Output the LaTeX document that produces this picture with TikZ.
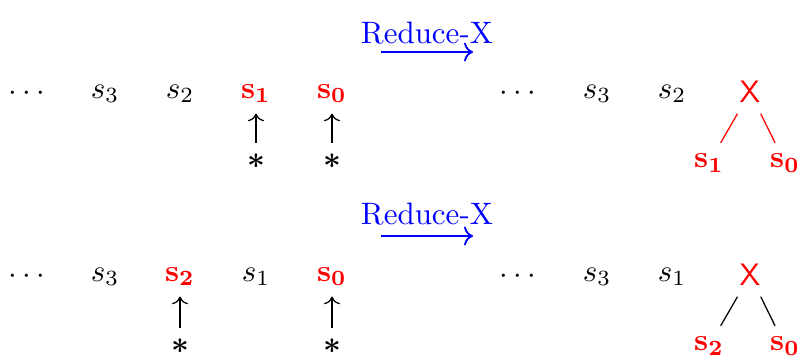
\documentclass[tikz,border=0pt]{standalone}
\usetikzlibrary{arrows.meta}
\begin{document}
\begin{tikzpicture}[x=0.3226pt, y=-0.3226pt,
  item/.style={anchor=base, inner sep=0.333em},
  hl/.style={item, text=red},
  star/.style={anchor=center, font=\boldmath},
  ptr/.style={->},
  root/.style={text=red, font=\sffamily, anchor=center},
  leaf/.style={text=red, anchor=center},
  lab/.style={text=blue, anchor=center},
  red edge/.style={red},
  black edge/.style={black},
  act/.style={->, blue, line width=0.6pt}]
\useasboundingbox (0,0) rectangle (798,358);
% ---------- top row ----------
\node[lab] (r1) at (427,33) {Reduce-X};
\coordinate (r1a) at (381,52);
\coordinate (r1b) at (473,52);
\draw[act] (r1a) -- (r1b);
\node[item] (t0) at (27,100) {$\cdots$};
\node[item] (t1) at (105,98) {$s_3$};
\node[item] (t2) at (180,98) {$s_2$};
\node[hl] (t3) at (256,98) {$\mathbf{s_1}$};
\node[hl] (t4) at (332,98) {$\mathbf{s_0}$};
\node[star] (a1) at (256,161) {$*$};
\node[star] (a2) at (332,161) {$*$};
\draw[ptr] (a1) -- (t3);
\draw[ptr] (a2) -- (t4);
\node[item] (u0) at (518,100) {$\cdots$};
\node[item] (u1) at (597,98) {$s_3$};
\node[item] (u2) at (672,98) {$s_2$};
\node[root] (x1) at (750,92) {X};
\node[leaf] (l1) at (709,163) {$\mathbf{s_1}$};
\node[leaf] (l2) at (785,163) {$\mathbf{s_0}$};
\draw[red edge] (x1) -- (l1);
\draw[red edge] (x1) -- (l2);
% ---------- bottom row ----------
\node[lab] (r2) at (427,214) {Reduce-X};
\coordinate (r2a) at (381,236);
\coordinate (r2b) at (473,236);
\draw[act] (r2a) -- (r2b);
\node[item] (b0) at (27,283) {$\cdots$};
\node[item] (b1) at (105,281) {$s_3$};
\node[hl] (b2) at (180,281) {$\mathbf{s_2}$};
\node[item] (b3) at (256,281) {$s_1$};
\node[hl] (b4) at (332,281) {$\mathbf{s_0}$};
\node[star] (c1) at (180,346) {$*$};
\node[star] (c2) at (332,346) {$*$};
\draw[ptr] (c1) -- (b2);
\draw[ptr] (c2) -- (b4);
\node[item] (v0) at (518,283) {$\cdots$};
\node[item] (v1) at (597,281) {$s_3$};
\node[item] (v2) at (672,281) {$s_1$};
\node[root] (x2) at (750,275) {X};
\node[leaf] (m1) at (709,346) {$\mathbf{s_2}$};
\node[leaf] (m2) at (785,346) {$\mathbf{s_0}$};
\draw[black edge] (x2) -- (m1);
\draw[black edge] (x2) -- (m2);
\end{tikzpicture}
\end{document}
